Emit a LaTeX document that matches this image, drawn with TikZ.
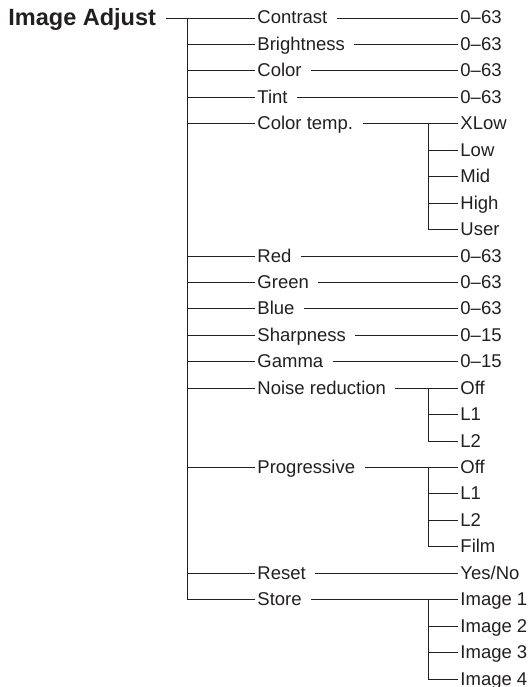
\documentclass[tikz,border=0pt]{standalone}
\usepackage{fontspec}
\setmainfont{Liberation Sans}
\definecolor{ink}{RGB}{35,31,32}
\begin{document}
\begin{tikzpicture}[x=1pt,y=-1pt,line width=0.9pt,
  lbl/.style={anchor=west,inner sep=0pt,font=\fontsize{18.5}{20}\selectfont,text height=14pt,text depth=2pt,text=ink},
  ttl/.style={anchor=west,inner sep=0pt,font=\fontsize{23.5}{26}\selectfont\bfseries,text height=17pt,text depth=1pt,text=ink},
  conn/.style={draw=ink,shorten >=2pt},
  trunk/.style={draw=ink}]
\useasboundingbox (0,0) rectangle (530,687);
\coordinate (T) at (187,0);
\coordinate (S) at (428,0);
% title
\node[ttl] (title) at (8,18) {Image Adjust};
% second level
\node[lbl] (contrast) at (257,18) {Contrast};
\node[lbl] (bright) at (257,44.4) {Brightness};
\node[lbl] (color) at (257,70.9) {Color};
\node[lbl] (tint) at (257,97.3) {Tint};
\node[lbl] (ctemp) at (257,123.8) {Color temp.};
\node[lbl] (red) at (257,256.0) {Red};
\node[lbl] (green) at (257,282.4) {Green};
\node[lbl] (blue) at (257,308.8) {Blue};
\node[lbl] (sharp) at (257,335.3) {Sharpness};
\node[lbl] (gamma) at (257,361.7) {Gamma};
\node[lbl] (noise) at (257,388.2) {Noise reduction};
\node[lbl] (prog) at (257,467.5) {Progressive};
\node[lbl] (reset) at (257,573.2) {Reset};
\node[lbl] (store) at (257,599.7) {Store};
% values
\node[lbl] (vcontrast) at (460,18) {0–63};
\node[lbl] (vbright) at (460,44.4) {0–63};
\node[lbl] (vcolor) at (460,70.9) {0–63};
\node[lbl] (vtint) at (460,97.3) {0–63};
\node[lbl] (xlow) at (460,123.8) {XLow};
\node[lbl] (low) at (460,150.2) {Low};
\node[lbl] (mid) at (460,176.6) {Mid};
\node[lbl] (high) at (460,203.1) {High};
\node[lbl] (user) at (460,229.5) {User};
\node[lbl] (vred) at (460,256.0) {0–63};
\node[lbl] (vgreen) at (460,282.4) {0–63};
\node[lbl] (vblue) at (460,308.8) {0–63};
\node[lbl] (vsharp) at (460,335.3) {0–15};
\node[lbl] (vgamma) at (460,361.7) {0–15};
\node[lbl] (noff) at (460,388.2) {Off};
\node[lbl] (nlone) at (460,414.6) {L1};
\node[lbl] (nltwo) at (460,441.0) {L2};
\node[lbl] (poff) at (460,467.5) {Off};
\node[lbl] (plone) at (460,493.9) {L1};
\node[lbl] (pltwo) at (460,520.4) {L2};
\node[lbl] (pfilm) at (460,546.8) {Film};
\node[lbl] (vreset) at (460,573.2) {Yes/No};
\node[lbl] (imone) at (460,599.7) {Image 1};
\node[lbl] (imtwo) at (460,626.1) {Image 2};
\node[lbl] (imthree) at (460,652.6) {Image 3};
\node[lbl] (imfour) at (460,679.0) {Image 4};
% title connector and main trunk
\draw[conn,shorten <=10pt] (title.east) -- (contrast.west);
\draw[trunk] (contrast.west -| T) -- (store.west -| T);
\foreach \n in {bright,color,tint,ctemp,red,green,blue,sharp,gamma,noise,prog,reset,store}
  \draw[conn] (\n.west -| T) -- (\n.west);
% value connectors
\foreach \a/\b in {contrast/vcontrast,bright/vbright,color/vcolor,tint/vtint,ctemp/xlow,red/vred,green/vgreen,blue/vblue,sharp/vsharp,gamma/vgamma,noise/noff,prog/poff,reset/vreset,store/imone}
  \draw[conn,shorten <=9pt] (\a.east) -- (\b.west);
% sub trunks
\draw[trunk] (xlow.west -| S) -- (user.west -| S);
\draw[trunk] (noff.west -| S) -- (nltwo.west -| S);
\draw[trunk] (poff.west -| S) -- (pfilm.west -| S);
\draw[trunk] (imone.west -| S) -- (imfour.west -| S);
\foreach \n in {low,mid,high,user,nlone,nltwo,plone,pltwo,pfilm,imtwo,imthree,imfour}
  \draw[conn] (\n.west -| S) -- (\n.west);
\end{tikzpicture}
\end{document}
